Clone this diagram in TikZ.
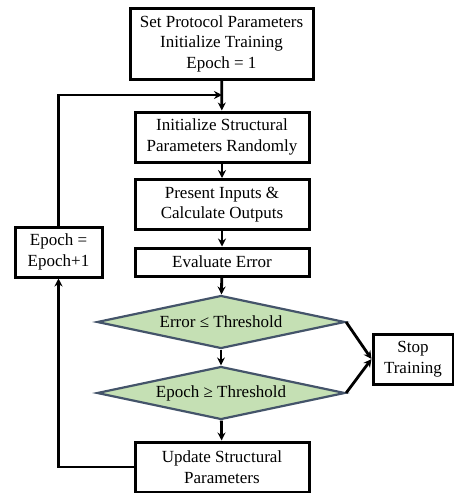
\documentclass[tikz,border=0pt]{standalone}
\usepackage{fontspec}
\setmainfont{Liberation Serif}
\usetikzlibrary{shapes.geometric,arrows.meta}

\definecolor{checkfill}{HTML}{C5E0B4}
\definecolor{checkline}{HTML}{44546A}

\begin{document}
\begin{tikzpicture}[x=1pt,y=-1pt,
  font=\fontsize{17}{20.5}\selectfont,
  box/.style={draw,line width=3pt,align=center,inner sep=0pt,minimum width=174pt,minimum height=50pt},
  check/.style={diamond,draw=checkline,fill=checkfill,line width=2.2pt,aspect=4.77,inner sep=0pt,minimum width=248pt,minimum height=53pt},
  flow/.style={line width=2.8pt,-{Stealth[length=8pt,width=8pt]}}]
  \useasboundingbox (0,0) rectangle (454,493);
  \node[box,minimum width=183pt,minimum height=71pt] (setup) at (221.5,43.5) {Set Protocol Parameters\\Initialize Training\\Epoch = 1};
  \node[box] (randinit) at (222,137) {Initialize Structural\\Parameters Randomly};
  \node[box] (present) at (222,204.5) {Present Inputs \&\\Calculate Outputs};
  \node[box,minimum height=28pt] (evalerr) at (222,262) {Evaluate Error};
  \node[check] (errcheck) at (221,322) {Error ≤ Threshold};
  \node[check] (epochcheck) at (221,393) {Epoch ≥ Threshold};
  \node[box] (update) at (222,467) {Update Structural\\Parameters};
  \node[box,minimum width=80pt] (stop) at (413,359) {Stop\\Training};
  \node[box,minimum width=87pt] (nextepoch) at (58.5,252) {Epoch =\\Epoch+1};
  \coordinate (merge) at (222,95);
  % main flow
  \draw[flow] (setup) -- (randinit);
  \draw[flow] (randinit) -- (present);
  \draw[flow] (present) -- (evalerr);
  \draw[flow] (evalerr) -- (errcheck);
  \draw[flow] (errcheck) -- (epochcheck);
  \draw[flow] (epochcheck) -- (update);
  \draw[flow] (errcheck.east) -- (stop.west);
  \draw[flow] (epochcheck.east) -- (stop.west);
  % loop back
  \draw[flow] (update.west) -| (nextepoch.south);
  \draw[flow] (nextepoch.north) |- (merge);
\end{tikzpicture}
\end{document}
